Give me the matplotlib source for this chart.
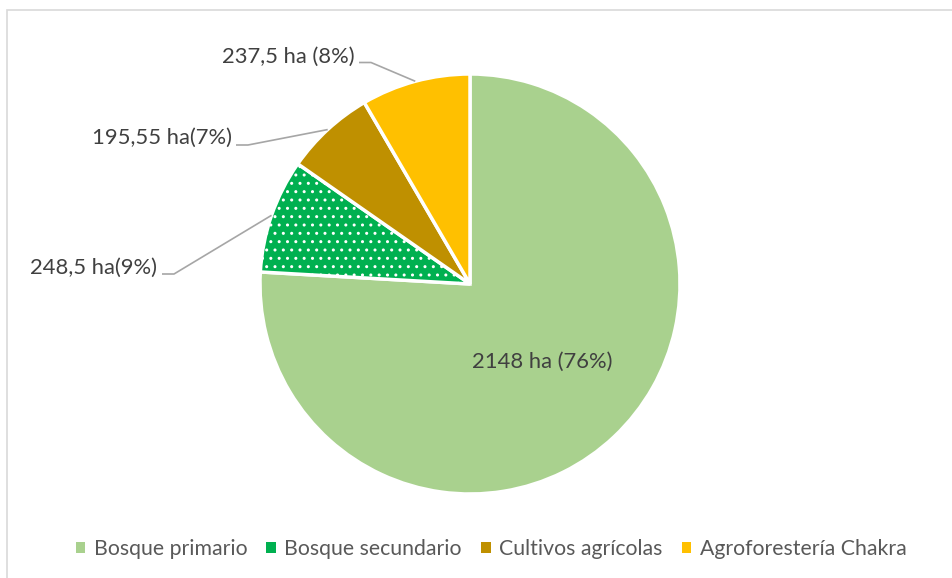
import numpy as np
import matplotlib
matplotlib.use("Agg")
import matplotlib.pyplot as plt
from matplotlib.patches import Patch, Rectangle

# Land use areas (ha)
CATEGORIES = ["Bosque primario", "Bosque secundario", "Cultivos agrícolas", "Agroforestería Chakra"]
AREAS = [2148, 248.5, 195.55, 237.5]
LABELS = ["2148 ha (76%)", "248,5 ha(9%)", "195,55 ha(7%)", "237,5 ha (8%)"]

COLORS = ["#A9D18E", "#00B050", "#BF9000", "#FFC000"]
HATCHES = [None, "..", None, None]

W, H = 953, 578
CX, CY, R = 470, 284, 210  # pie centre / radius in pixels


def px(x, y):
    # pixel position -> data coordinates of the pie axes
    return (x - CX) / R, (CY - y) / R


plt.rcParams["font.family"] = ["Lato", "DejaVu Sans"]
plt.rcParams["hatch.linewidth"] = 1.0

fig = plt.figure(figsize=(W / 100, H / 100), dpi=100)
ax = fig.add_axes([(CX - R) / W, (H - CY - R) / H, 2 * R / W, 2 * R / H])

wedges, _ = ax.pie(
    AREAS,
    startangle=90,
    counterclock=False,
    colors=COLORS,
    radius=1,
    wedgeprops=dict(edgecolor="white", linewidth=2.5),
)
for w, h in zip(wedges, HATCHES):
    if h:
        w.set_hatch(h)

ax.set_xlim(-1, 1)
ax.set_ylim(-1, 1)
ax.set_aspect("equal")
ax.axis("off")

# Label placement: text right edge / centre, knee of the leader line (pixels)
label_pos = {
    1: dict(text=(157, 268), knee=[(162, 274), (174, 274)]),
    2: dict(text=(232, 138), knee=[(236, 145), (248, 145)]),
    3: dict(text=(355, 57), knee=[(359, 62.5), (371, 62.5)]),
}

fs = 15.8
fracs = np.array(AREAS) / np.sum(AREAS)
start = 90.0
for i, (frac, lab) in enumerate(zip(fracs, LABELS)):
    mid = np.radians(start - frac * 360 / 2)
    start -= frac * 360
    if i == 0:
        tx, ty = px(542, 362)
        ax.text(tx, ty, lab, ha="center", va="center", fontsize=fs, color="#404040")
        continue
    p = label_pos[i]
    tx, ty = px(*p["text"])
    ax.text(tx, ty, lab, ha="right", va="center", fontsize=fs, color="#404040")
    pts = [px(*k) for k in p["knee"]] + [(np.cos(mid), np.sin(mid))]
    xs, ys = zip(*pts)
    ax.plot(xs, ys, color="#A6A6A6", lw=1.2, clip_on=False, solid_capstyle="butt")

# Legend along the bottom
handles = [Patch(facecolor=c, edgecolor="none") for c in COLORS]
fig.legend(
    handles, CATEGORIES,
    loc="center", bbox_to_anchor=(491 / W, 1 - 549 / H), ncol=4,
    frameon=False, fontsize=15.3, labelcolor="#595959",
    handlelength=0.45, handleheight=0.45, handletextpad=0.4, columnspacing=0.9,
)

# Chart area border
fig.patches.append(Rectangle((7 / W, -0.05), (W - 7) / W, 1.05 - 10 / H,
                             transform=fig.transFigure, fill=False,
                             edgecolor="#D9D9D9", lw=1.2))

fig.savefig("out.png", dpi=100)
